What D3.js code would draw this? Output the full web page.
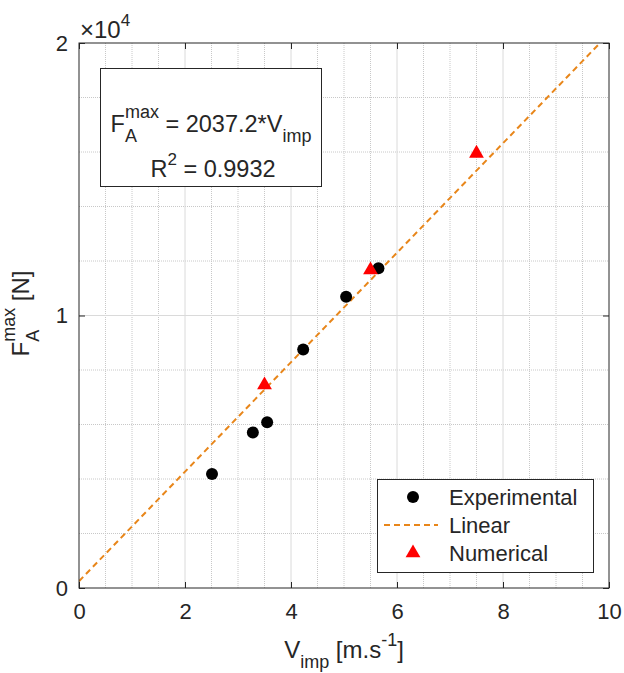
<!DOCTYPE html>
<html>
<head>
<meta charset="utf-8">
<script src="https://cdn.jsdelivr.net/npm/d3@7"></script>
<style>
	body { margin: 0; background: #fff; }
	text { font-family: "Liberation Sans", Arial, sans-serif; fill: #262626; white-space: pre; }
</style>
</head>
<body>
<div id="chart"></div>
<script>
	// values
	var expV = [2.51, 3.28, 3.55, 4.23, 5.04, 5.65];
	var expF = [4180, 5710, 6080, 8750, 10690, 11730];
	var numV = [3.5, 5.5, 7.5];
	var numF = [7450, 11670, 15950];
	var linV = [0, 10];
	var linF = [250, 20340];
	var xTicks = [0, 2, 4, 6, 8, 10];
	var yTicks = [0, 10000, 20000];
	var legendNames = ['Experimental', 'Linear', 'Numerical'];

	var W = 624, H = 673;
	var margin = {top: 43, right: 15, bottom: 85, left: 79};
	var width = W - margin.left - margin.right,
		height = H - margin.top - margin.bottom;

	var svg = d3.select('#chart').append('svg')
		.attr('width', W)
		.attr('height', H);
	var g = svg.append('g')
		.attr('transform', 'translate(' + margin.left + ',' + margin.top + ')');

	var x = d3.scaleLinear().domain([0, 10]).range([0, width]);
	var y = d3.scaleLinear().domain([0, 20000]).range([height, 0]);

	// grid, minor first then major
	var xMinor = d3.range(0.5, 10, 0.5).filter(function (v) { return v % 2 !== 0; });
	var yMinor = d3.range(2000, 20000, 2000).filter(function (v) { return v % 10000 !== 0; });
	g.append('g').selectAll('line').data(xMinor).enter().append('line')
		.attr('x1', function (d) { return x(d); }).attr('x2', function (d) { return x(d); })
		.attr('y1', 0).attr('y2', height)
		.attr('stroke', '#c8c8c8').attr('stroke-width', 1).attr('stroke-dasharray', '1,1');
	g.append('g').selectAll('line').data(yMinor).enter().append('line')
		.attr('y1', function (d) { return y(d); }).attr('y2', function (d) { return y(d); })
		.attr('x1', 0).attr('x2', width)
		.attr('stroke', '#c8c8c8').attr('stroke-width', 1).attr('stroke-dasharray', '1,1');
	g.append('g').selectAll('line').data([2, 4, 6, 8]).enter().append('line')
		.attr('x1', function (d) { return x(d); }).attr('x2', function (d) { return x(d); })
		.attr('y1', 0).attr('y2', height)
		.attr('stroke', '#dadada').attr('stroke-width', 1);
	g.append('g').selectAll('line').data([10000]).enter().append('line')
		.attr('y1', function (d) { return y(d); }).attr('y2', function (d) { return y(d); })
		.attr('x1', 0).attr('x2', width)
		.attr('stroke', '#dadada').attr('stroke-width', 1);

	// axes with inward ticks
	g.append('g')
		.attr('transform', 'translate(0,' + height + ')')
		.call(d3.axisBottom(x).tickValues(xTicks).tickSizeInner(-6).tickSizeOuter(0).tickPadding(15));
	g.append('g')
		.call(d3.axisLeft(y).tickValues(yTicks).tickSizeInner(-6).tickSizeOuter(0).tickPadding(11)
			.tickFormat(function (d) { return d / 10000; }));
	g.append('g')
		.call(d3.axisTop(x).tickValues(xTicks).tickSizeInner(-6).tickSizeOuter(0).tickFormat(''));
	g.append('g')
		.attr('transform', 'translate(' + width + ',0)')
		.call(d3.axisRight(y).tickValues(yTicks).tickSizeInner(-6).tickSizeOuter(0).tickFormat(''));
	g.selectAll('.domain').remove();
	g.selectAll('.tick line').attr('stroke', '#262626');
	g.selectAll('.tick text')
		.style('font-size', '22px')
		.style('font-family', '"Liberation Sans", Arial, sans-serif')
		.attr('fill', '#262626');

	// data layer clipped to the axes
	g.append('clipPath').attr('id', 'clip')
		.append('rect').attr('width', width).attr('height', height);
	var plot = g.append('g').attr('clip-path', 'url(#clip)');

	var line = d3.line()
		.x(function (d, i) { return x(linV[i]); })
		.y(function (d) { return y(d); });
	plot.append('path')
		.datum(linF)
		.attr('d', line)
		.attr('fill', 'none')
		.attr('stroke', '#E8861A')
		.attr('stroke-width', 2)
		.attr('stroke-dasharray', '6,4');

	plot.selectAll('circle.exp').data(expF).enter().append('circle')
		.attr('class', 'exp')
		.attr('cx', function (d, i) { return x(expV[i]); })
		.attr('cy', function (d) { return y(d); })
		.attr('r', 6)
		.attr('fill', '#000');

	var tri = d3.symbol().type(d3.symbolTriangle).size(95);
	plot.selectAll('path.num').data(numF).enter().append('path')
		.attr('class', 'num')
		.attr('d', tri)
		.attr('transform', function (d, i) { return 'translate(' + x(numV[i]) + ',' + y(d) + ')'; })
		.attr('fill', '#ff0000');

	// frame
	g.append('rect')
		.attr('width', width).attr('height', height)
		.attr('fill', 'none').attr('stroke', '#262626').attr('stroke-width', 1);

	// text with stacked super/subscripts
	function rich(parent, x0, y0, parts, big, small, up, down) {
		var cx = x0;
		parts.forEach(function (p) {
			if (p.t !== undefined) {
				var t = parent.append('text').attr('x', cx).attr('y', y0)
					.style('font-size', big + 'px').text(p.t);
				cx += t.node().getComputedTextLength();
			} else {
				var w = 0;
				if (p.sup) {
					var s = parent.append('text').attr('x', cx).attr('y', y0 - up)
						.style('font-size', small + 'px').text(p.sup);
					w = Math.max(w, s.node().getComputedTextLength());
				}
				if (p.sub) {
					var b = parent.append('text').attr('x', cx).attr('y', y0 + down)
						.style('font-size', small + 'px').text(p.sub);
					w = Math.max(w, b.node().getComputedTextLength());
				}
				cx += w;
			}
		});
		return cx - x0;
	}

	// x label
	var xl = svg.append('g');
	var xw = rich(xl, 0, 0, [{t: 'V'}, {sub: 'imp'}, {t: ' [m.s'}, {sup: '-1'}, {t: ']'}], 24, 18, 12, 10);
	xl.attr('transform', 'translate(' + (margin.left + width / 2 - xw / 2) + ',658)');

	// y label
	var yl = svg.append('g');
	var yw = rich(yl, 0, 0, [{t: 'F'}, {sup: 'max', sub: 'A'}, {t: ' [N]'}], 24, 18, 14, 10);
	yl.attr('transform', 'translate(29,' + (margin.top + height / 2 - 2 + yw / 2) + ') rotate(-90)');

	// exponent
	var ex = svg.append('g');
	rich(ex, 0, 0, [{t: '\u00d710'}, {sup: '4'}], 24, 17, 12, 0);
	ex.attr('transform', 'translate(80,38)');

	// fit annotation
	var ann = svg.append('g');
	ann.append('rect')
		.attr('x', 100.5).attr('y', 68.5).attr('width', 221).attr('height', 118)
		.attr('fill', '#fff').attr('stroke', '#262626').attr('stroke-width', 1);
	var l1 = ann.append('g');
	var w1 = rich(l1, 0, 0, [{t: 'F'}, {sup: 'max', sub: 'A'}, {t: ' = 2037.2*V'}, {sub: 'imp'}], 23.5, 18, 14, 10);
	l1.attr('transform', 'translate(' + (211 - w1 / 2) + ',132)');
	var l2 = ann.append('g');
	var w2 = rich(l2, 0, 0, [{t: 'R'}, {sup: '2'}, {t: ' = 0.9932'}], 23.5, 17, 12, 0);
	l2.attr('transform', 'translate(' + (213 - w2 / 2) + ',177)');

	// legend
	var lg = svg.append('g');
	lg.append('rect')
		.attr('x', 377.5).attr('y', 479.5).attr('width', 216).attr('height', 93)
		.attr('fill', '#fff').attr('stroke', '#262626').attr('stroke-width', 1);
	var rows = [497, 525, 553];
	lg.append('circle').attr('cx', 413).attr('cy', rows[0]).attr('r', 6).attr('fill', '#000');
	lg.append('line').attr('x1', 384).attr('x2', 438).attr('y1', rows[1]).attr('y2', rows[1])
		.attr('stroke', '#E8861A').attr('stroke-width', 2).attr('stroke-dasharray', '6,4');
	lg.append('path').attr('d', tri).attr('transform', 'translate(413,' + rows[2] + ')').attr('fill', '#ff0000');
	lg.selectAll('text.lt').data(legendNames).enter().append('text')
		.attr('class', 'lt')
		.attr('x', 449)
		.attr('y', function (d, i) { return rows[i]; })
		.attr('dy', '0.36em')
		.style('font-size', '22px')
		.text(function (d) { return d; });
</script>
</body>
</html>
